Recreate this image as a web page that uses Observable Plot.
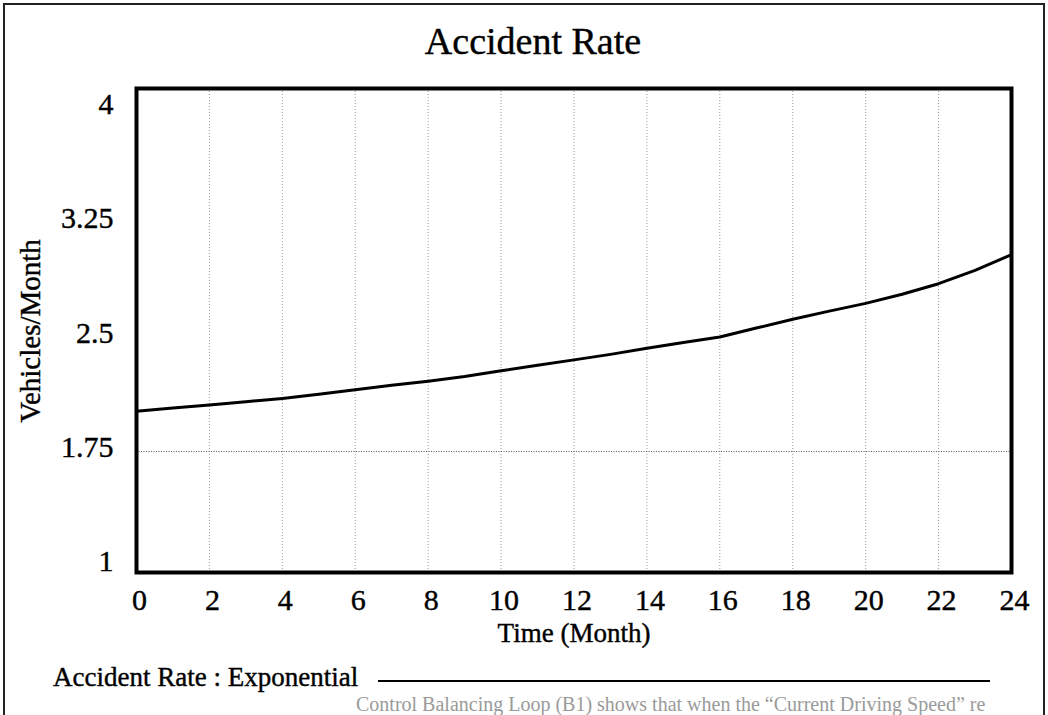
<!DOCTYPE html>
<html>
<head>
<meta charset="utf-8">
<script src="https://cdn.jsdelivr.net/npm/d3@7"></script>
<script src="https://cdn.jsdelivr.net/npm/@observablehq/plot@0.6"></script>
<style>
  html, body { margin: 0; padding: 0; background: #fff; overflow: hidden; }
  #wrap { position: relative; width: 1048px; height: 715px; overflow: hidden; font-family: "Liberation Serif", "Times New Roman", serif; color: #000; }
  #border { position: absolute; left: 3px; top: 3px; width: 1038px; height: 730px; border: 2px solid #222; }
  #chart { position: absolute; left: 0; top: 0; }
  #chart svg text { stroke: #000; stroke-width: 0.4px; }
  .t { position: absolute; white-space: nowrap; line-height: 1; -webkit-text-stroke: 0.4px #000; }
  #title { left: 0; width: 1066px; text-align: center; top: 22px; font-size: 38px; }
  #xlabel { left: 0; width: 1148px; text-align: center; top: 620px; font-size: 27px; }
  #ylabel { left: 30px; top: 331px; font-size: 29px; transform: translate(-50%, -50%) rotate(-90deg); }
  #legend { left: 53px; top: 664px; font-size: 27px; }
  #legline { position: absolute; left: 378px; top: 680px; width: 612px; height: 0; border-top: 2px solid #000; }
  #ghost { left: 356px; top: 694px; font-size: 20px; color: #9a9a9a; -webkit-text-stroke: 0; }
</style>
</head>
<body>
<div id="wrap">
  <div id="border"></div>
  <div id="chart"></div>
  <div class="t" id="title"></div>
  <div class="t" id="xlabel"></div>
  <div class="t" id="ylabel"></div>
  <div class="t" id="legend"></div>
  <div id="legline"></div>
  <div class="t" id="ghost"></div>
</div>
<script>
// ---- data ----
const months = [0,1,2,3,4,5,6,7,8,9,10,11,12,13,14,15,16,17,18,19,20,21,22,23,24];
const accidentRate = [2.00,2.02,2.038,2.058,2.079,2.105,2.133,2.16,2.186,2.215,2.25,2.285,2.318,2.352,2.39,2.425,2.46,2.515,2.57,2.62,2.668,2.725,2.79,2.873,2.97];
const xTicks = [0,2,4,6,8,10,12,14,16,18,20,22,24];
const yTicks = [1,1.75,2.5,3.25,4];
const titleText = "Accident Rate";
const xLabelText = "Time (Month)";
const yLabelText = "Vehicles/Month";
const legendText = "Accident Rate : Exponential";
const ghostText = "Control Balancing Loop (B1) shows that when the \u201cCurrent Driving Speed\u201d re";

const data = months.map((m, i) => ({month: m, rate: accidentRate[i]}));

document.getElementById("title").textContent = titleText;
document.getElementById("xlabel").textContent = xLabelText;
document.getElementById("ylabel").textContent = yLabelText;
document.getElementById("legend").textContent = legendText;
document.getElementById("ghost").textContent = ghostText;

const yAxes = yTicks.map(v => Plot.axisY([v], {
  tickSize: 0, tickPadding: 23, fontSize: 30, label: null,
  tickFormat: d => String(d),
  dy: -11 + 9 * (v - 1)
}));

const chart = Plot.plot({
  width: 1048,
  height: 660,
  marginTop: 88,
  marginBottom: 88,
  marginLeft: 136,
  marginRight: 37,
  style: {fontFamily: "'Liberation Serif', 'Times New Roman', serif", background: "transparent", color: "#000"},
  x: {domain: [0, 24]},
  y: {domain: [1, 4]},
  marks: [
    Plot.ruleX(xTicks, {stroke: "#9a9a9a", strokeWidth: 1, strokeDasharray: "1,2"}),
    Plot.ruleY([1.75], {stroke: "#555", strokeWidth: 1, strokeDasharray: "1,1.5"}),
    Plot.axisX(xTicks, {tickSize: 0, tickPadding: 16, fontSize: 30, label: null, dx: 3, tickFormat: d => String(d)}),
    ...yAxes,
    Plot.line(data, {x: "month", y: "rate", stroke: "#000", strokeWidth: 3}),
    Plot.frame({stroke: "#000", strokeWidth: 4})
  ]
});
document.getElementById("chart").appendChild(chart);
</script>
</body>
</html>
